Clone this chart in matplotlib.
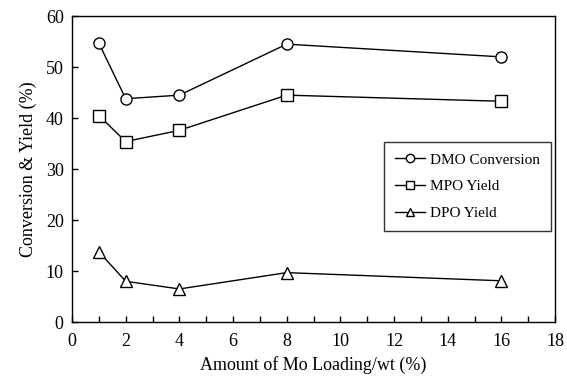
import matplotlib
matplotlib.use('Agg')
import matplotlib.pyplot as plt
from matplotlib.ticker import MultipleLocator

# Mo loading (wt %)
loading = [1, 2, 4, 8, 16]
dmo_conversion = [54.7, 43.8, 44.5, 54.5, 52.0]
mpo_yield = [40.5, 35.4, 37.6, 44.5, 43.3]
dpo_yield = [13.8, 8.0, 6.5, 9.7, 8.1]

plt.rcParams['font.family'] = ['Liberation Serif', 'DejaVu Serif']

fig = plt.figure(figsize=(5.67, 3.83), dpi=100)
ax = fig.add_axes([0.127, 0.159, 0.852, 0.799])

style = dict(color='black', lw=1.0, mfc='white', mec='black', mew=1.0, ms=8)
ax.plot(loading, dmo_conversion, marker='o', label='DMO Conversion', **style)
ax.plot(loading, mpo_yield, marker='s', label='MPO Yield', **style)
ax.plot(loading, dpo_yield, marker='^', label='DPO Yield', **style)

ax.set_xlim(0, 18)
ax.set_ylim(0, 60)
ax.xaxis.set_major_locator(MultipleLocator(2))
ax.xaxis.set_minor_locator(MultipleLocator(1))
ax.yaxis.set_major_locator(MultipleLocator(10))
ax.tick_params(axis='both', which='both', direction='in', length=4, width=1,
               labelsize=13, pad=8)
ax.tick_params(axis='y', pad=6)

ax.set_xlabel('Amount of Mo Loading/wt (%)', fontsize=13, labelpad=4)
ax.set_ylabel('Conversion & Yield (%)', fontsize=13, labelpad=6)

leg = ax.legend(loc='upper right', bbox_to_anchor=(0.997, 0.598), fontsize=11,
                frameon=True, fancybox=False, edgecolor='black',
                handlelength=2.0, handletextpad=0.3, markerscale=0.75,
                borderpad=0.7, labelspacing=0.85, borderaxespad=0.2)
leg.get_frame().set_linewidth(1.0)

for s in ax.spines.values():
    s.set_linewidth(1.0)

plt.savefig('out.png', dpi=100)
